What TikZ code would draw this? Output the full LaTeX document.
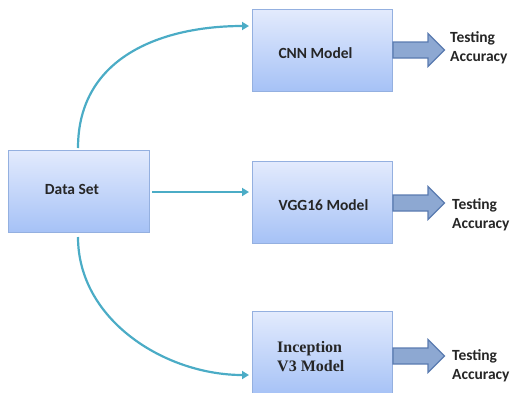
\documentclass[tikz,border=0pt]{standalone}
\usepackage{fontspec}
\setmainfont{Carlito}
\newfontfamily\timesfont{Liberation Serif}
\usetikzlibrary{arrows.meta,shadows}
\definecolor{teal1}{HTML}{4BACC6}
\definecolor{boxtop}{HTML}{E3EBFD}
\definecolor{boxbot}{HTML}{A6C2F6}
\definecolor{boxline}{HTML}{94B0E0}
\definecolor{arrfill}{HTML}{8DA8D2}
\definecolor{arrline}{HTML}{5A7BB0}
\tikzset{
  modelbox/.style={draw=boxline, line width=1pt, top color=boxtop, bottom color=boxbot,
    drop shadow={shadow xshift=1.2pt, shadow yshift=-1.2pt, opacity=0.35, fill=black!60}},
  lbl/.style={font=\fontsize{15.5}{19}\selectfont\bfseries, text=black!85, inner sep=0pt},
  acc/.style={lbl, align=left, anchor=west},
  conn/.style={draw=teal1, line width=2.2pt, -{Triangle[length=7pt,width=8pt]}},
  blockarrow/.style={draw=arrline, line width=1.2pt, fill=arrfill, line join=miter}
}
\begin{document}
\begin{tikzpicture}[x=1pt,y=-1pt]
\useasboundingbox (0,0) rectangle (512,392);
% boxes
\path[modelbox] (8,150) rectangle (149,232);
\path[modelbox] (252,9) rectangle (392,91);
\path[modelbox] (252,161) rectangle (392,243);
\path[modelbox] (252,311) rectangle (392,395);
\coordinate (ds) at (78.5,191);
\node[lbl] (dstxt) at (72,189) {Data Set};
\node[lbl] (cnntxt) at (315.5,53) {CNN Model};
\node[lbl] (vggtxt) at (323.5,205) {VGG16 Model};
\node[lbl, anchor=west, align=left, font=\fontsize{16}{19}\selectfont\bfseries\timesfont] (inctxt) at (277,356.5) {Inception\\V3 Model};
% connectors
\coordinate (ctop) at (78,148);
\coordinate (cbot) at (78,237);
\coordinate (cmid) at (152,192);
\coordinate (cnnin) at (249,26);
\coordinate (vggin) at (249,192);
\coordinate (incin) at (249,375);
\draw[conn] (ctop) .. controls (78,55) and (165,26) .. (cnnin);
\draw[conn] (cmid) -- (vggin);
\draw[conn] (cbot) .. controls (78,320) and (165,375) .. (incin);
% block arrows
\foreach \yy/\nm in {50/a1,203/a2,356/a3}{
  \draw[blockarrow] (393,\yy-8) -- (428,\yy-8) -- (428,\yy-16.5) -- (444.5,\yy) -- (428,\yy+16.5) -- (428,\yy+8) -- (393,\yy+8) -- cycle;
}
\node[acc] (acc1) at (450,48) {Testing\\Accuracy};
\node[acc] (acc2) at (452,214.5) {Testing\\Accuracy};
\node[acc] (acc3) at (452,366) {Testing\\Accuracy};
\end{tikzpicture}
\end{document}
